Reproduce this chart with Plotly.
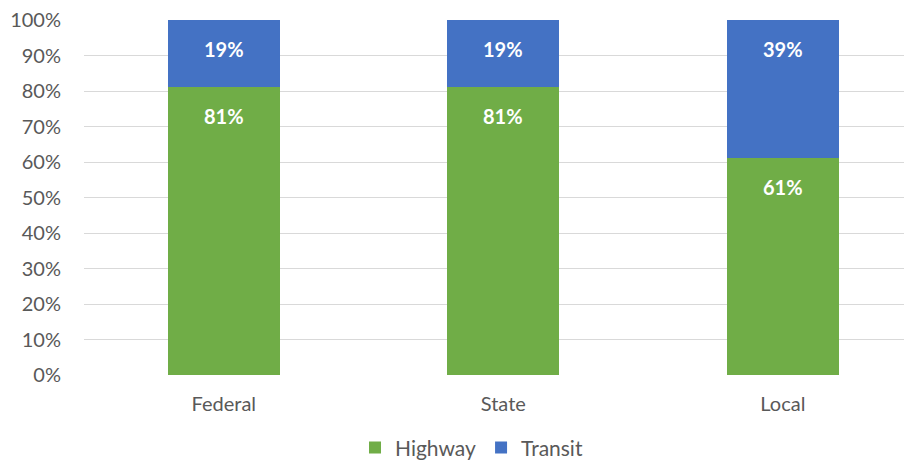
import plotly.graph_objects as go

categories = ["Federal", "State", "Local"]
highway = [81, 81, 61]
transit = [19, 19, 39]
y_ticks = [0, 10, 20, 30, 40, 50, 60, 70, 80, 90, 100]
y_tick_labels = [f"{v}%" for v in y_ticks]

GREEN = "#70AD47"
BLUE = "#4472C4"
GREY = "#595959"
FONT = "Lato, Open Sans, sans-serif"

fig = go.Figure()
fig.add_trace(go.Bar(name="Highway", x=categories, y=highway, marker_color=GREEN,
                     width=0.4, marker_line_width=0))
fig.add_trace(go.Bar(name="Transit", x=categories, y=transit, marker_color=BLUE,
                     width=0.4, marker_line_width=0))

annotations = []
for c, h, t in zip(categories, highway, transit):
    annotations.append(dict(x=c, y=h, text=f"<b>{h}%</b>", showarrow=False,
                            yanchor="middle", yshift=-29,
                            font=dict(family=FONT, size=20, color="white")))
    annotations.append(dict(x=c, y=h + t, text=f"<b>{t}%</b>", showarrow=False,
                            yanchor="middle", yshift=-29,
                            font=dict(family=FONT, size=20, color="white")))

fig.update_layout(
    barmode="stack",
    width=912, height=460,
    margin=dict(l=76, r=8, t=12, b=93, autoexpand=False),
    paper_bgcolor="white", plot_bgcolor="white",
    font=dict(family=FONT, size=20, color=GREY),
    annotations=annotations,
    xaxis=dict(range=[-0.5, 2.462], showgrid=False, showline=False,
               ticks="", automargin=False, ticklabelstandoff=15,
               tickfont=dict(size=20, color=GREY)),
    yaxis=dict(range=[0, 100], tickvals=y_ticks, ticktext=y_tick_labels,
               showgrid=True, gridcolor="#D9D9D9", gridwidth=1,
               zeroline=False, showline=False, ticks="", automargin=False,
               ticklabelstandoff=22, ticklabeloverflow="allow",
               tickfont=dict(size=20, color=GREY)),
    legend=dict(orientation="h", x=0.468, xanchor="center", y=-0.205, yanchor="middle",
                font=dict(size=21, color=GREY), itemwidth=30, traceorder="normal"),
    bargap=0.6,
)

fig.write_html("out.html")
